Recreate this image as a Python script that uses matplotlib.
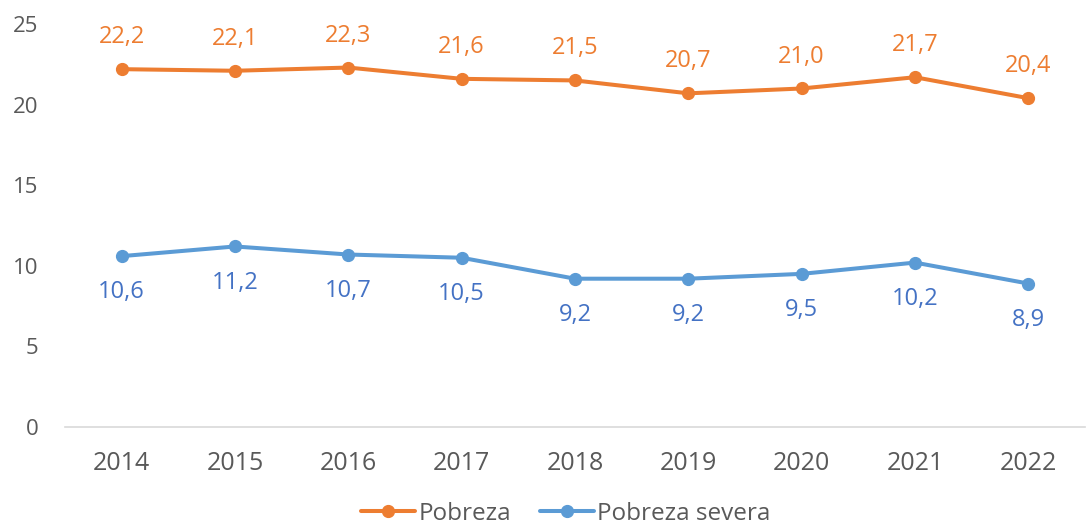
import matplotlib.pyplot as plt

# data
years = ["2014", "2015", "2016", "2017", "2018", "2019", "2020", "2021", "2022"]
pobreza = [22.2, 22.1, 22.3, 21.6, 21.5, 20.7, 21.0, 21.7, 20.4]
pobreza_severa = [10.6, 11.2, 10.7, 10.5, 9.2, 9.2, 9.5, 10.2, 8.9]
y_ticks = [0, 5, 10, 15, 20, 25]

ORANGE = "#ED7D31"
BLUE = "#5B9BD5"
BLUE_TXT = "#4472C4"
GREY_TXT = "#595959"

plt.rcParams['font.family'] = ['Open Sans', 'DejaVu Sans']

fig = plt.figure(figsize=(10.89, 5.28), dpi=100)
ax = fig.add_axes([0.0597, 0.1913, 0.9366, 0.7632])

x = list(range(len(years)))
ax.plot(x, pobreza, color=ORANGE, lw=2.9, marker='o', ms=8.5, label="Pobreza",
        solid_capstyle='round')
ax.plot(x, pobreza_severa, color=BLUE, lw=2.9, marker='o', ms=8.5, label="Pobreza severa",
        solid_capstyle='round')

def fmt(v):
    return f"{v:.1f}".replace(".", ",")

for xi, v in zip(x, pobreza):
    ax.annotate(fmt(v), (xi, v), xytext=(0, 23), textcoords='offset points',
                ha='center', va='center', color=ORANGE, fontsize=17)
for xi, v in zip(x, pobreza_severa):
    ax.annotate(fmt(v), (xi, v), xytext=(0, -26), textcoords='offset points',
                ha='center', va='center', color=BLUE_TXT, fontsize=17)

ax.set_xlim(-0.5, len(years) - 0.5)
ax.set_ylim(0, 25)
ax.set_yticks(y_ticks)
ax.set_xticks(x)
ax.set_xticklabels(years)
ax.tick_params(axis='both', length=0, labelcolor=GREY_TXT)
ax.tick_params(axis='x', labelsize=18, pad=17)
ax.tick_params(axis='y', labelsize=16, pad=19)

for s in ['top', 'right', 'left']:
    ax.spines[s].set_visible(False)
ax.spines['bottom'].set_color("#D9D9D9")
ax.spines['bottom'].set_linewidth(1.2)

fig.legend(loc='center', bbox_to_anchor=(566 / 1089, 1 - 514 / 528),
           bbox_transform=fig.transFigure, ncol=2, frameon=False, fontsize=17.5,
           labelcolor=GREY_TXT, handlelength=2.2, handletextpad=0.15, columnspacing=1.2,
           borderpad=0.1)

fig.savefig("out.png", dpi=100)
